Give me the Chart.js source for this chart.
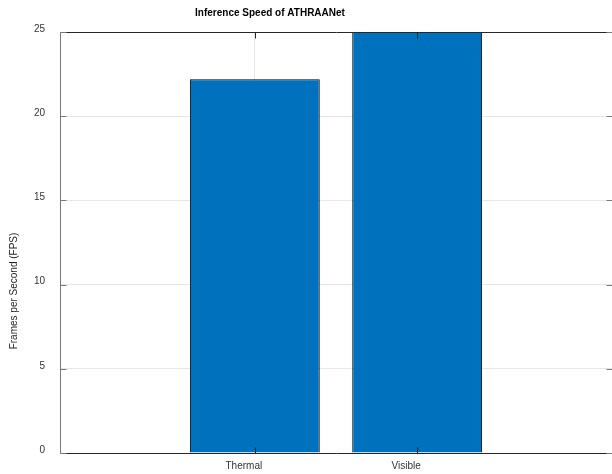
<!DOCTYPE html>
<html>
<head>
<meta charset="utf-8">
<script src="https://cdn.jsdelivr.net/npm/chart.js@4/dist/chart.umd.min.js"></script>
<style>
  html, body { margin: 0; padding: 0; background: #fff; overflow: hidden; }
  #wrap { position: relative; width: 612px; height: 474px; }
</style>
</head>
<body>
<div id="wrap"><canvas id="c"></canvas></div>
<script>
// Inference speed per input modality
const categories = ['Thermal', 'Visible'];
const positions = [1, 2];
const fps = [22.2, 25.4];
const yTicks = [0, 5, 10, 15, 20, 25];

const titleText = 'Inference Speed of ATHRAANet';
const yTitle = 'Frames per Second (FPS)';

const FONT = '"Liberation Sans", Arial, Helvetica, sans-serif';
const AXIS_DARK = '#262626';
const AXIS_GRAY = '#7a7a7a';
const GRID = '#e6e6e6';

// Boxed axes with inward tick marks, plus the title and y-axis label
const boxPlugin = {
  id: 'boxAxes',
  afterDatasetsDraw(chart) {
    const { ctx, chartArea: a, scales: { x, y } } = chart;
    ctx.save();
    const L = Math.round(a.left) + 0.5, R = Math.round(a.right) + 0.5;
    const T = Math.round(a.top) + 0.5, B = Math.round(a.bottom) + 0.5;
    ctx.lineWidth = 1;
    // top & bottom
    ctx.strokeStyle = AXIS_DARK;
    ctx.beginPath();
    ctx.moveTo(L, T); ctx.lineTo(R, T);
    ctx.moveTo(L, B); ctx.lineTo(R, B);
    ctx.stroke();
    // left & right
    ctx.strokeStyle = AXIS_GRAY;
    ctx.beginPath();
    ctx.moveTo(L, T); ctx.lineTo(L, B);
    ctx.moveTo(R, T); ctx.lineTo(R, B);
    ctx.stroke();
    // y ticks, inward on both sides
    const tl = 6;
    yTicks.forEach(v => {
      const py = Math.round(y.getPixelForValue(v)) + 0.5;
      ctx.strokeStyle = AXIS_GRAY;
      ctx.beginPath();
      ctx.moveTo(L, py); ctx.lineTo(L + tl, py);
      ctx.moveTo(R, py); ctx.lineTo(R - tl, py);
      ctx.stroke();
    });
    // x ticks, inward top and bottom
    positions.forEach(v => {
      const px = Math.round(x.getPixelForValue(v)) + 0.5;
      ctx.strokeStyle = AXIS_DARK;
      ctx.beginPath();
      ctx.moveTo(px, B); ctx.lineTo(px, B - tl);
      ctx.moveTo(px, T); ctx.lineTo(px, T + tl);
      ctx.stroke();
    });
    // title
    ctx.fillStyle = '#000';
    ctx.font = 'bold 10px ' + FONT;
    ctx.textAlign = 'center';
    ctx.textBaseline = 'middle';
    ctx.fillText(titleText, 270, 13);
    // y-axis label
    ctx.fillStyle = '#262626';
    ctx.font = '10px ' + FONT;
    ctx.translate(14, 291);
    ctx.rotate(-Math.PI / 2);
    ctx.fillText(yTitle, 0, 0);
    ctx.restore();
  }
};

new Chart(document.getElementById('c'), {
  type: 'bar',
  data: {
    datasets: [{
      data: positions.map((p, i) => ({ x: p, y: fps[i] })),
      backgroundColor: '#0072BD',
      borderColor: '#000000',
      borderWidth: 1,
      categoryPercentage: 1.0,
      barPercentage: 0.8
    }]
  },
  options: {
    responsive: true,
    maintainAspectRatio: false,
    animation: false,
    layout: { padding: { top: 32, left: 0, right: 0, bottom: 0 } },
    plugins: { legend: { display: false }, title: { display: false }, tooltip: { enabled: false } },
    scales: {
      x: {
        type: 'linear',
        min: -0.2,
        max: 3.2,
        offset: false,
        afterBuildTicks: s => { s.ticks = positions.map(v => ({ value: v })); },
        afterFit: s => { s.height = 19; },
        grid: { color: GRID, drawTicks: false, tickLength: 0, offset: false },
        border: { display: false },
        ticks: {
          autoSkip: false,
          maxRotation: 0,
          padding: 7,
          labelOffset: -11,
          color: '#333',
          font: { family: FONT, size: 10 },
          callback: v => categories[positions.indexOf(v)] ?? ''
        }
      },
      y: {
        min: 0,
        max: 25,
        afterBuildTicks: s => { s.ticks = yTicks.map(v => ({ value: v })); },
        afterFit: s => { s.width = 60; },
        grid: {
          color: ctx => (ctx.tick && (ctx.tick.value === 0 || ctx.tick.value === 25)) ? 'rgba(0,0,0,0)' : GRID,
          drawTicks: false,
          tickLength: 0
        },
        border: { display: false },
        ticks: {
          padding: 15,
          labelOffset: -3,
          color: '#333',
          font: { family: FONT, size: 10 }
        }
      }
    }
  },
  plugins: [boxPlugin]
});
</script>
</body>
</html>
